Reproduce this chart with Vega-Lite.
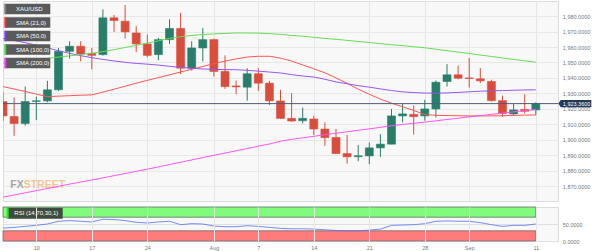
{
  "$schema": "https://vega.github.io/schema/vega-lite/v6.json",
  "padding": 0,
  "background": "#ffffff",
  "spacing": 4,
  "datasets": {
    "daily": [
      {"date":"2023-07-05","open":1924.7,"high":1931.0,"low":1912.0,"close":1915.4,"sma21":1934.4,"sma50":1965.5,"sma100":1949.6,"sma200":1862.8,"rsi":38},
      {"date":"2023-07-06","open":1915.0,"high":1927.3,"low":1902.5,"close":1910.5,"sma21":1932.8,"sma50":1964.2,"sma100":1950.4,"sma200":1864.2,"rsi":40},
      {"date":"2023-07-07","open":1910.5,"high":1934.4,"low":1909.0,"close":1924.7,"sma21":1931.2,"sma50":1962.8,"sma100":1951.2,"sma200":1865.6,"rsi":43},
      {"date":"2023-07-10","open":1924.8,"high":1927.9,"low":1912.7,"close":1925.2,"sma21":1929.5,"sma50":1961.2,"sma100":1951.9,"sma200":1867.0,"rsi":46},
      {"date":"2023-07-11","open":1925.1,"high":1938.1,"low":1924.2,"close":1932.3,"sma21":1927.9,"sma50":1959.5,"sma100":1952.7,"sma200":1868.4,"rsi":50},
      {"date":"2023-07-12","open":1932.3,"high":1959.4,"low":1931.6,"close":1957.2,"sma21":1928.2,"sma50":1957.6,"sma100":1953.5,"sma200":1869.8,"rsi":58},
      {"date":"2023-07-13","open":1957.2,"high":1963.7,"low":1952.5,"close":1960.5,"sma21":1928.5,"sma50":1955.9,"sma100":1954.3,"sma200":1871.2,"rsi":60},
      {"date":"2023-07-14","open":1960.5,"high":1963.7,"low":1950.7,"close":1955.5,"sma21":1928.8,"sma50":1954.4,"sma100":1955.1,"sma200":1872.6,"rsi":58},
      {"date":"2023-07-17","open":1955.9,"high":1959.4,"low":1945.5,"close":1954.6,"sma21":1929.0,"sma50":1953.1,"sma100":1955.9,"sma200":1873.9,"rsi":56},
      {"date":"2023-07-18","open":1955.1,"high":1984.4,"low":1954.4,"close":1978.9,"sma21":1930.8,"sma50":1952.0,"sma100":1957.0,"sma200":1875.3,"rsi":64},
      {"date":"2023-07-19","open":1978.9,"high":1980.7,"low":1969.8,"close":1977.2,"sma21":1932.7,"sma50":1951.0,"sma100":1958.3,"sma200":1876.7,"rsi":63},
      {"date":"2023-07-20","open":1976.7,"high":1987.2,"low":1965.5,"close":1969.8,"sma21":1934.6,"sma50":1950.1,"sma100":1959.7,"sma200":1878.1,"rsi":60},
      {"date":"2023-07-21","open":1969.1,"high":1973.5,"low":1956.8,"close":1962.0,"sma21":1936.6,"sma50":1949.4,"sma100":1961.1,"sma200":1879.5,"rsi":55},
      {"date":"2023-07-24","open":1962.0,"high":1968.1,"low":1953.3,"close":1954.6,"sma21":1938.4,"sma50":1948.9,"sma100":1962.5,"sma200":1880.9,"rsi":53},
      {"date":"2023-07-25","open":1955.1,"high":1965.9,"low":1951.4,"close":1964.8,"sma21":1940.2,"sma50":1948.3,"sma100":1964.0,"sma200":1882.4,"rsi":56},
      {"date":"2023-07-26","open":1964.8,"high":1977.9,"low":1962.0,"close":1972.0,"sma21":1942.0,"sma50":1947.5,"sma100":1965.6,"sma200":1883.9,"rsi":58},
      {"date":"2023-07-27","open":1972.0,"high":1982.1,"low":1942.4,"close":1946.3,"sma21":1943.8,"sma50":1946.8,"sma100":1966.7,"sma200":1885.4,"rsi":48},
      {"date":"2023-07-28","open":1946.3,"high":1963.7,"low":1944.8,"close":1959.4,"sma21":1945.6,"sma50":1946.2,"sma100":1967.5,"sma200":1886.9,"rsi":51},
      {"date":"2023-07-31","open":1959.4,"high":1972.4,"low":1950.7,"close":1964.8,"sma21":1947.4,"sma50":1945.8,"sma100":1968.1,"sma200":1888.4,"rsi":50},
      {"date":"2023-08-01","open":1964.8,"high":1965.5,"low":1940.9,"close":1944.2,"sma21":1949.3,"sma50":1945.5,"sma100":1968.5,"sma200":1889.9,"rsi":44},
      {"date":"2023-08-02","open":1944.2,"high":1954.6,"low":1932.9,"close":1934.4,"sma21":1950.9,"sma50":1945.4,"sma100":1968.8,"sma200":1891.3,"rsi":42},
      {"date":"2023-08-03","open":1934.8,"high":1938.3,"low":1929.4,"close":1934.2,"sma21":1952.3,"sma50":1945.3,"sma100":1969.1,"sma200":1892.8,"rsi":42},
      {"date":"2023-08-04","open":1934.0,"high":1946.3,"low":1925.3,"close":1942.7,"sma21":1953.5,"sma50":1944.9,"sma100":1969.1,"sma200":1894.3,"rsi":45},
      {"date":"2023-08-07","open":1942.7,"high":1946.3,"low":1931.6,"close":1936.6,"sma21":1954.0,"sma50":1944.4,"sma100":1969.0,"sma200":1895.8,"rsi":43},
      {"date":"2023-08-08","open":1936.6,"high":1938.1,"low":1922.5,"close":1925.1,"sma21":1954.0,"sma50":1943.8,"sma100":1968.7,"sma200":1897.2,"rsi":40},
      {"date":"2023-08-09","open":1925.1,"high":1932.3,"low":1913.4,"close":1913.8,"sma21":1952.8,"sma50":1943.2,"sma100":1968.2,"sma200":1899.0,"rsi":37},
      {"date":"2023-08-10","open":1913.8,"high":1930.1,"low":1911.6,"close":1912.1,"sma21":1950.9,"sma50":1942.1,"sma100":1967.5,"sma200":1900.2,"rsi":36},
      {"date":"2023-08-11","open":1912.3,"high":1920.8,"low":1910.5,"close":1913.8,"sma21":1948.4,"sma50":1941.2,"sma100":1967.0,"sma200":1901.2,"rsi":36},
      {"date":"2023-08-14","open":1913.4,"high":1915.5,"low":1903.0,"close":1906.9,"sma21":1945.9,"sma50":1940.6,"sma100":1966.3,"sma200":1902.2,"rsi":35},
      {"date":"2023-08-15","open":1906.9,"high":1911.2,"low":1896.0,"close":1901.4,"sma21":1943.3,"sma50":1939.1,"sma100":1965.6,"sma200":1903.2,"rsi":33},
      {"date":"2023-08-16","open":1901.4,"high":1906.9,"low":1890.8,"close":1891.0,"sma21":1940.0,"sma50":1937.4,"sma100":1965.0,"sma200":1904.2,"rsi":31},
      {"date":"2023-08-17","open":1891.0,"high":1903.0,"low":1884.5,"close":1888.9,"sma21":1936.5,"sma50":1936.2,"sma100":1964.3,"sma200":1905.1,"rsi":30},
      {"date":"2023-08-18","open":1889.0,"high":1896.5,"low":1886.0,"close":1889.6,"sma21":1932.7,"sma50":1935.0,"sma100":1963.6,"sma200":1906.1,"rsi":30},
      {"date":"2023-08-21","open":1889.5,"high":1898.2,"low":1884.1,"close":1894.7,"sma21":1929.4,"sma50":1934.0,"sma100":1962.9,"sma200":1907.0,"rsi":32},
      {"date":"2023-08-22","open":1894.7,"high":1903.6,"low":1888.9,"close":1897.1,"sma21":1926.3,"sma50":1932.9,"sma100":1962.2,"sma200":1908.0,"rsi":35},
      {"date":"2023-08-23","open":1897.1,"high":1919.9,"low":1897.1,"close":1915.4,"sma21":1923.6,"sma50":1931.8,"sma100":1961.5,"sma200":1909.0,"rsi":46},
      {"date":"2023-08-24","open":1915.4,"high":1923.2,"low":1911.2,"close":1916.7,"sma21":1921.3,"sma50":1931.0,"sma100":1960.9,"sma200":1909.9,"rsi":47},
      {"date":"2023-08-25","open":1916.4,"high":1922.1,"low":1903.4,"close":1914.9,"sma21":1918.9,"sma50":1930.5,"sma100":1960.2,"sma200":1910.6,"rsi":48},
      {"date":"2023-08-28","open":1915.4,"high":1925.8,"low":1912.3,"close":1919.9,"sma21":1916.3,"sma50":1930.2,"sma100":1959.5,"sma200":1911.4,"rsi":51},
      {"date":"2023-08-29","open":1919.9,"high":1938.3,"low":1914.4,"close":1937.2,"sma21":1915.8,"sma50":1930.1,"sma100":1958.6,"sma200":1912.2,"rsi":58},
      {"date":"2023-08-30","open":1937.7,"high":1948.9,"low":1934.4,"close":1942.0,"sma21":1915.6,"sma50":1930.3,"sma100":1957.6,"sma200":1913.1,"rsi":59},
      {"date":"2023-08-31","open":1942.0,"high":1947.9,"low":1939.2,"close":1939.8,"sma21":1915.5,"sma50":1930.6,"sma100":1956.7,"sma200":1913.9,"rsi":58},
      {"date":"2023-09-01","open":1940.0,"high":1952.9,"low":1933.8,"close":1939.6,"sma21":1915.4,"sma50":1931.0,"sma100":1955.8,"sma200":1914.8,"rsi":58},
      {"date":"2023-09-04","open":1939.4,"high":1946.3,"low":1936.6,"close":1938.1,"sma21":1915.4,"sma50":1931.4,"sma100":1954.8,"sma200":1915.6,"rsi":54},
      {"date":"2023-09-05","open":1937.7,"high":1938.8,"low":1924.7,"close":1925.3,"sma21":1915.4,"sma50":1931.6,"sma100":1953.9,"sma200":1916.4,"rsi":48},
      {"date":"2023-09-06","open":1925.3,"high":1928.6,"low":1914.9,"close":1917.0,"sma21":1915.5,"sma50":1931.8,"sma100":1952.9,"sma200":1917.2,"rsi":43},
      {"date":"2023-09-07","open":1916.7,"high":1923.2,"low":1916.0,"close":1919.3,"sma21":1915.7,"sma50":1932.0,"sma100":1952.0,"sma200":1918.0,"rsi":46},
      {"date":"2023-09-08","open":1919.6,"high":1929.4,"low":1917.0,"close":1918.4,"sma21":1915.9,"sma50":1932.2,"sma100":1951.1,"sma200":1918.8,"rsi":46},
      {"date":"2023-09-11","open":1919.3,"high":1924.2,"low":1916.0,"close":1923.36,"sma21":1916.0,"sma50":1932.3,"sma100":1950.1,"sma200":1919.6,"rsi":50}
    ],
    "mainLegend": [
      {"label":"XAU/USD"},
      {"label":"SMA (21,0)"},
      {"label":"SMA (50,0)"},
      {"label":"SMA (100,0)"},
      {"label":"SMA (200,0)"}
    ],
    "rsiLegend": [{"label":"RSI (14,70,30,1)"}],
    "zones": [
      {"zone":"overbought","from":"2023-07-05","to":"2023-09-11","lo":70,"hi":100},
      {"zone":"oversold","from":"2023-07-05","to":"2023-09-11","lo":0,"hi":30}
    ],
    "brand": [{"part":"FX"},{"part":"STREET"}]
  },
  "vconcat": [
    {
      "width": 555,
      "height": 200,
      "encoding": {
        "x": {
          "field": "date",
          "type": "ordinal",
          "scale": {"type": "point", "padding": 0, "domain": ["2023-07-05","2023-07-06","2023-07-07","2023-07-10","2023-07-11","2023-07-12","2023-07-13","2023-07-14","2023-07-17","2023-07-18","2023-07-19","2023-07-20","2023-07-21","2023-07-24","2023-07-25","2023-07-26","2023-07-27","2023-07-28","2023-07-31","2023-08-01","2023-08-02","2023-08-03","2023-08-04","2023-08-07","2023-08-08","2023-08-09","2023-08-10","2023-08-11","2023-08-14","2023-08-15","2023-08-16","2023-08-17","2023-08-18","2023-08-21","2023-08-22","2023-08-23","2023-08-24","2023-08-25","2023-08-28","2023-08-29","2023-08-30","2023-08-31","2023-09-01","2023-09-04","2023-09-05","2023-09-06","2023-09-07","2023-09-08","2023-09-11","2023-09-12","2023-09-13"]},
          "axis": {"values": ["2023-07-10","2023-07-17","2023-07-24","2023-08-01","2023-08-07","2023-08-14","2023-08-21","2023-08-28","2023-09-01","2023-09-11"], "tickCount": 20, "labels": false, "ticks": false, "domain": false, "grid": true, "gridColor": "#e6e6e6", "title": null}
        }
      },
      "layer": [
        {
          "data": {"name": "daily"},
          "mark": {"type": "rule", "strokeWidth": 1, "clip": true},
          "encoding": {
            "y": {"field": "low", "type": "quantitative", "scale": {"domain": [1860.3, 1989.8], "zero": false, "nice": false},
                  "axis": {"orient": "right", "values": [1870,1880,1890,1900,1910,1920,1930,1940,1950,1960,1970,1980], "tickCount": 20, "format": ",.4f", "grid": true, "gridColor": "#e8e8e8", "labelPadding": 4.3, "labelOverlap": false, "labelBound": false, "title": null}},
            "y2": {"field": "high"},
            "stroke": {"condition": {"test": "datum.close >= datum.open", "value": "#2b7d6b"}, "value": "#d64f3e"}
          }
        },
        {
          "data": {"name": "daily"},
          "mark": {"type": "bar", "width": 8, "strokeWidth": 0.6, "clip": true},
          "encoding": {
            "y": {"field": "open", "type": "quantitative"},
            "y2": {"field": "close"},
            "fill": {"condition": {"test": "datum.close >= datum.open", "value": "#2b7d6b"}, "value": "#d64f3e"},
            "stroke": {"condition": {"test": "datum.close >= datum.open", "value": "#2b7d6b"}, "value": "#d64f3e"}
          }
        },
        {
          "data": {"name": "brand"},
          "transform": [{"filter": "datum.part == 'FX'"}],
          "mark": {"type": "text", "align": "right", "baseline": "middle", "dx": -1.5, "font": "Liberation Sans Narrow, Liberation Sans, sans-serif", "fontWeight": "bold", "fontSize": 10.5, "color": "#a5a5a5"},
          "encoding": {"x": {"datum": "2023-07-07"}, "y": {"datum": 1870.9}, "text": {"field": "part"}}
        },
        {
          "data": {"name": "brand"},
          "transform": [{"filter": "datum.part == 'STREET'"}],
          "mark": {"type": "text", "align": "left", "baseline": "middle", "dx": -1.5, "font": "Liberation Sans Narrow, Liberation Sans, sans-serif", "fontWeight": "bold", "fontSize": 10.5, "color": "#f6c592"},
          "encoding": {"x": {"datum": "2023-07-07"}, "y": {"datum": 1870.9}, "text": {"field": "part"}}
        },
        {
          "data": {"name": "daily"},
          "transform": [{"fold": ["sma21", "sma50", "sma100", "sma200"], "as": ["series", "value"]}],
          "mark": {"type": "line", "strokeWidth": 1, "clip": true},
          "encoding": {
            "y": {"field": "value", "type": "quantitative"},
            "color": {"field": "series", "type": "nominal", "scale": {"domain": ["sma21", "sma50", "sma100", "sma200"], "range": ["#ff5555", "#9a55f0", "#66dd55", "#ff55f5"]}, "legend": null}
          }
        },
        {
          "data": {"name": "daily"},
          "transform": [{"filter": "datum.date == '2023-09-11'"}],
          "mark": {"type": "rule", "color": "#4d5b78", "strokeWidth": 1},
          "encoding": {"x": null, "y": {"field": "close", "type": "quantitative"}}
        },
        {
          "data": {"name": "daily"},
          "transform": [{"filter": "datum.date == '2023-09-11'"}],
          "mark": {"type": "point", "shape": "M22.5,0L25,-3.6H55.5V3.6H25Z", "size": 4, "filled": true, "color": "#213a5c", "opacity": 1, "strokeWidth": 0},
          "encoding": {"y": {"field": "close", "type": "quantitative"}}
        },
        {
          "data": {"name": "daily"},
          "transform": [{"filter": "datum.date == '2023-09-11'"}],
          "mark": {"type": "text", "align": "left", "baseline": "middle", "dx": 27, "font": "Liberation Sans", "fontSize": 5.5, "color": "#ffffff"},
          "encoding": {"y": {"field": "close", "type": "quantitative"}, "text": {"field": "close", "type": "quantitative", "format": ",.4f"}}
        },
        {
          "data": {"name": "mainLegend"},
          "mark": {"type": "point", "filled": false, "fill": "#5a5a5a", "opacity": 0, "size": 4},
          "encoding": {
            "x": {"datum": "2023-07-05"},
            "color": {"field": "label", "type": "nominal",
              "scale": {"domain": ["XAU/USD", "SMA (21,0)", "SMA (50,0)", "SMA (100,0)", "SMA (200,0)"], "range": ["#7a7a7a", "#ff3030", "#7b3ff2", "#33dd33", "#ff33ff"]},
              "legend": {"orient": "none", "direction": "vertical", "legendX": 0.3, "legendY": 5, "title": null, "padding": 0, "symbolType": "M-1,5.3V-5.3H44V5.3Z", "symbolSize": 4, "symbolStrokeWidth": 2, "symbolDash": [10.6, 300], "symbolOpacity": 1, "labelColor": "#ffffff", "labelFont": "Liberation Sans", "labelFontSize": 6, "labelOffset": 6.7, "rowPadding": -6.5}}
          }
        }
      ],
      "resolve": {"scale": {"color": "independent"}}
    },
    {
      "width": 555,
      "height": 34,
      "encoding": {
        "x": {
          "field": "date",
          "type": "ordinal",
          "scale": {"type": "point", "padding": 0, "domain": ["2023-07-05","2023-07-06","2023-07-07","2023-07-10","2023-07-11","2023-07-12","2023-07-13","2023-07-14","2023-07-17","2023-07-18","2023-07-19","2023-07-20","2023-07-21","2023-07-24","2023-07-25","2023-07-26","2023-07-27","2023-07-28","2023-07-31","2023-08-01","2023-08-02","2023-08-03","2023-08-04","2023-08-07","2023-08-08","2023-08-09","2023-08-10","2023-08-11","2023-08-14","2023-08-15","2023-08-16","2023-08-17","2023-08-18","2023-08-21","2023-08-22","2023-08-23","2023-08-24","2023-08-25","2023-08-28","2023-08-29","2023-08-30","2023-08-31","2023-09-01","2023-09-04","2023-09-05","2023-09-06","2023-09-07","2023-09-08","2023-09-11","2023-09-12","2023-09-13"]},
          "axis": {"values": ["2023-07-10","2023-07-17","2023-07-24","2023-08-01","2023-08-07","2023-08-14","2023-08-21","2023-08-28","2023-09-01","2023-09-11"], "tickCount": 20, "labelExpr": "datum.value == '2023-08-01' ? 'Aug' : datum.value == '2023-09-01' ? 'Sep' : '' + toNumber(slice(datum.value, 8))", "labelAngle": 0, "labelPadding": 4, "labelOverlap": false, "ticks": false, "domain": false, "grid": true, "gridColor": "#e6e6e6", "title": null}
        }
      },
      "layer": [
        {
          "data": {"name": "zones"},
          "mark": {"type": "rect", "stroke": "#6a6a6a", "strokeWidth": 0.8},
          "encoding": {
            "x": {"field": "from", "type": "ordinal"},
            "x2": {"field": "to"},
            "y": {"field": "lo", "type": "quantitative", "scale": {"domain": [0, 100], "nice": false},
                  "axis": {"orient": "right", "values": [0, 50], "tickCount": 5, "format": ".4f", "grid": true, "gridColor": "#e0e0e0", "labelPadding": 4.3, "labelOverlap": false, "labelBound": false, "title": null}},
            "y2": {"field": "hi"},
            "fill": {"field": "zone", "type": "nominal", "scale": {"domain": ["overbought", "oversold"], "range": ["#80fb7c", "#ff7c7c"]}, "legend": null}
          }
        },
        {
          "data": {"name": "daily"},
          "mark": {"type": "line", "color": "#5570ee", "strokeWidth": 0.8},
          "encoding": {"y": {"field": "rsi", "type": "quantitative"}}
        },
        {
          "data": {"name": "rsiLegend"},
          "mark": {"type": "point", "filled": false, "fill": "#3e4c3e", "opacity": 0, "size": 4},
          "encoding": {
            "x": {"datum": "2023-07-05"},
            "color": {"field": "label", "type": "nominal",
              "scale": {"domain": ["RSI (14,70,30,1)"], "range": ["#2ee02e"]},
              "legend": {"orient": "none", "direction": "vertical", "legendX": 2.7, "legendY": 3.3, "title": null, "padding": 0, "symbolType": "M-1,5.5V-5.5H54V5.5Z", "symbolSize": 4, "symbolStrokeWidth": 2, "symbolDash": [11, 300], "symbolOpacity": 1, "labelColor": "#ffffff", "labelFont": "Liberation Sans", "labelFontSize": 6, "labelOffset": 2.6}}
          }
        }
      ],
      "resolve": {"scale": {"color": "independent"}}
    }
  ],
  "resolve": {"scale": {"color": "independent", "fill": "independent"}, "legend": {"color": "independent"}},
  "config": {
    "font": "Liberation Sans",
    "view": {"fill": "#f8f8f8", "stroke": "#dcdcdc", "strokeWidth": 1},
    "axis": {"labelFont": "Liberation Sans", "labelFontSize": 5.5, "labelColor": "#777777", "ticks": false, "domain": false, "labelOverlap": false}
  }
}
